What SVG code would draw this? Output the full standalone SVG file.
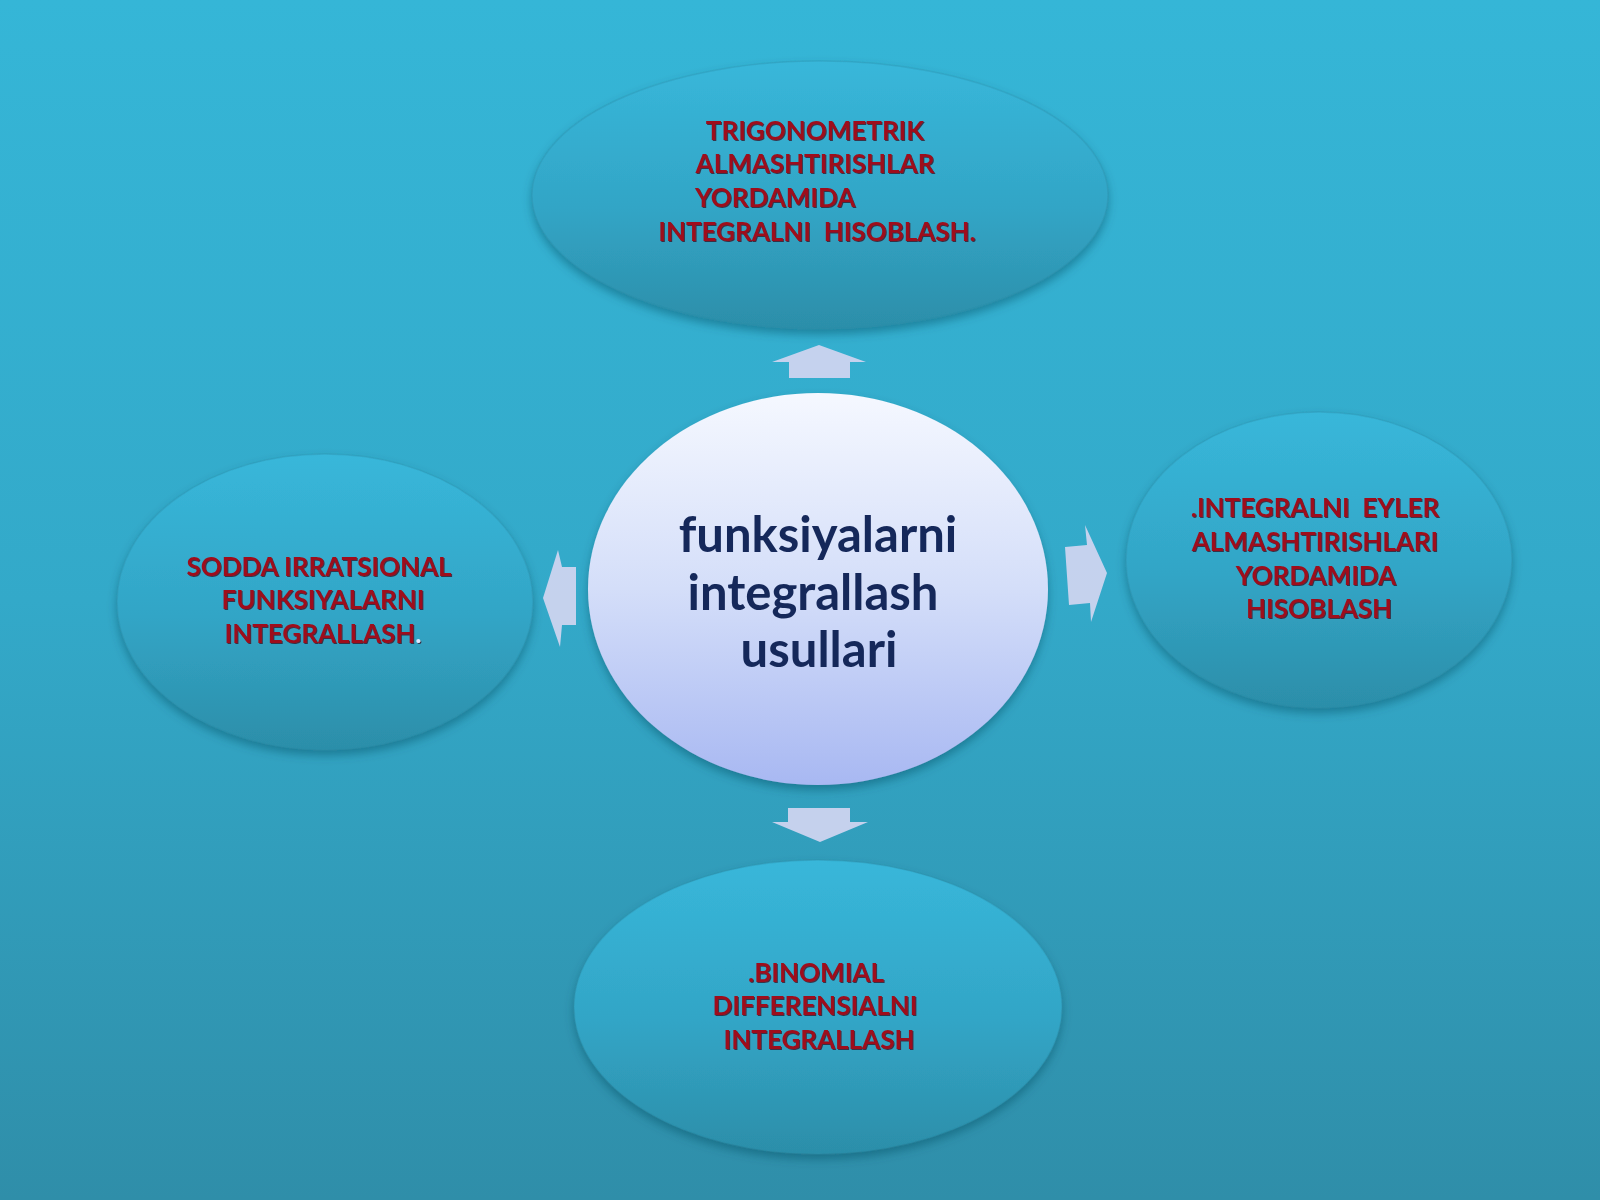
<svg xmlns="http://www.w3.org/2000/svg" width="1600" height="1200" viewBox="0 0 1600 1200">
  <defs>
    <linearGradient id="bg" x1="0" y1="0" x2="0" y2="1">
      <stop offset="0" stop-color="#35b6d7"/>
      <stop offset="0.5" stop-color="#33a9c9"/>
      <stop offset="1" stop-color="#2f8ea9"/>
    </linearGradient>
    <linearGradient id="outer" x1="0" y1="0" x2="0" y2="1">
      <stop offset="0" stop-color="#38b7da"/>
      <stop offset="0.55" stop-color="#32a5c6"/>
      <stop offset="1" stop-color="#2c8ea9"/>
    </linearGradient>
    <linearGradient id="center" x1="0" y1="0" x2="0" y2="1">
      <stop offset="0" stop-color="#f5f8ff"/>
      <stop offset="0.5" stop-color="#d4def9"/>
      <stop offset="1" stop-color="#a8b8f2"/>
    </linearGradient>
    <filter id="shadow" x="-20%" y="-20%" width="140%" height="150%">
      <feDropShadow dx="0" dy="5" stdDeviation="5" flood-color="#0b4a5e" flood-opacity="0.45"/>
    </filter>
    <filter id="tshadow" x="-5%" y="-20%" width="110%" height="150%">
      <feDropShadow dx="1" dy="1" stdDeviation="0.6" flood-color="#3a0008" flood-opacity="0.7"/>
    </filter>
  </defs>
  <style>
    .outer { fill: url(#outer); stroke: #2b8aa4; stroke-opacity: 0.3; stroke-width: 1.5; filter: url(#shadow); }
    .lbl { font-family: Lato, "Liberation Sans", sans-serif; font-weight: bold; font-size: 26px; fill: #9e0e1a; filter: url(#tshadow); }
    .mid { text-anchor: middle; }
    .ctr { font-family: Lato, "Liberation Sans", sans-serif; font-weight: bold; font-size: 49px; fill: #15285a; text-anchor: middle; }
    .arrow { fill: #cdd4ef; fill-opacity: 0.95; }
  </style>
  <rect x="0" y="0" width="1600" height="1200" fill="url(#bg)"/>

  <g id="connectors">
    <polygon class="arrow" points="819,345 866,362 850,362 850,378 789,378 789,362 772,362"/>
    <polygon class="arrow" points="788,808 850,808 850,822 868,822 820,842 772,822 788,822"/>
    <polygon class="arrow" points="1065,547 1087,545 1085,525 1107,573 1091,622 1090,603 1069,605"/>
    <polygon class="arrow" points="576,567 562,567 558,550 543,598 560,647 562,625 576,625"/>
  </g>

  <g id="node-top">
    <ellipse class="outer" cx="820" cy="195" rx="288" ry="134"/>
    <text class="lbl mid" x="815" y="140">TRIGONOMETRIK</text>
    <text class="lbl mid" x="815" y="173">ALMASHTIRISHLAR</text>
    <text class="lbl" x="695" y="207">YORDAMIDA</text>
    <text class="lbl mid" x="817" y="241" xml:space="preserve">INTEGRALNI  HISOBLASH.</text>
  </g>

  <g id="node-right">
    <ellipse class="outer" cx="1319" cy="560" rx="193" ry="148"/>
    <text class="lbl mid" x="1315" y="517" xml:space="preserve">.INTEGRALNI  EYLER</text>
    <text class="lbl mid" x="1315" y="551">ALMASHTIRISHLARI</text>
    <text class="lbl mid" x="1316" y="585">YORDAMIDA</text>
    <text class="lbl mid" x="1319" y="618">HISOBLASH</text>
  </g>

  <g id="node-left">
    <ellipse class="outer" cx="325" cy="602" rx="208" ry="148"/>
    <text class="lbl mid" x="319" y="576">SODDA IRRATSIONAL</text>
    <text class="lbl mid" x="323" y="609">FUNKSIYALARNI</text>
    <text class="lbl mid" x="323" y="643">INTEGRALLASH<tspan fill="#dfe8ff">.</tspan></text>
  </g>

  <g id="node-bottom">
    <ellipse class="outer" cx="818" cy="1007" rx="244" ry="147"/>
    <text class="lbl mid" x="816" y="982">.BINOMIAL</text>
    <text class="lbl mid" x="815" y="1015">DIFFERENSIALNI</text>
    <text class="lbl mid" x="819" y="1049">INTEGRALLASH</text>
  </g>

  <g id="node-center">
    <ellipse cx="818" cy="589" rx="230" ry="196" fill="url(#center)" filter="url(#shadow)"/>
    <text class="ctr" x="818" y="552">funksiyalarni</text>
    <text class="ctr" x="813" y="610">integrallash</text>
    <text class="ctr" x="819" y="667">usullari</text>
  </g>
</svg>
